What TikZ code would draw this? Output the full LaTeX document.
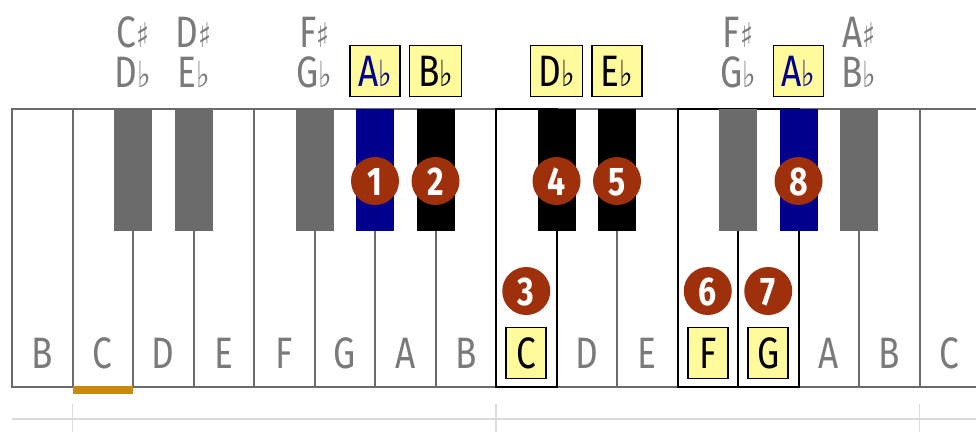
\documentclass[tikz,border=0pt]{standalone}
\usepackage{fontspec}
\setmainfont{Fira Sans}[FakeStretch=0.8]
\newfontfamily\accfont{DejaVu Sans}[FakeStretch=0.8]
\usetikzlibrary{positioning}
\definecolor{kgray}{HTML}{6B6B6B}
\definecolor{lgray}{HTML}{7A7A7A}
\definecolor{knavy}{HTML}{00008C}
\definecolor{nred}{HTML}{9E300C}
\definecolor{nyellow}{HTML}{FFFA9C}
\definecolor{cbar}{HTML}{C8890E}
\definecolor{rgray}{HTML}{DADADA}
\newcommand{\shp}{{\accfont\fontsize{34}{34}\selectfont ♯}}
\newcommand{\flt}{{\accfont\fontsize{36}{36}\selectfont ♭}}
\tikzset{
  whitekey/.style={draw=kgray,fill=white,line width=2pt,inner sep=0pt,outer sep=0pt,minimum width=60.5pt,minimum height=278pt},
  hlkey/.style={whitekey,draw=black},
  blackkey/.style={inner sep=0pt,outer sep=0pt,minimum width=38pt,minimum height=122pt,fill=#1},
  keyname/.style={inner sep=0pt,text height=30pt,text depth=0pt,text=lgray,font=\fontsize{44}{44}\selectfont},
  namebox/.style={keyname,draw=black,line width=1.6pt,fill=nyellow,text=black,minimum width=#1,minimum height=51pt},
  fingerdot/.style={circle,fill=nred,text=white,inner sep=0pt,minimum size=48pt,text height=28pt,text depth=0pt,font=\bfseries\fontsize{40}{40}\selectfont},
  cbarline/.style={draw=cbar,line width=8pt},
  rulerline/.style={draw=rgray,line width=1.5pt}
}

\begin{document}
\begin{tikzpicture}[x=1pt,y=-1pt]
\useasboundingbox (0,0) rectangle (976,432);
\clip (0,0) rectangle (976,432);
% white keys
\node (w1) [whitekey] at (42.25,248) {};
\node (w2) [whitekey] at (102.75,248) {};
\node (w3) [whitekey] at (163.25,248) {};
\node (w4) [whitekey] at (223.75,248) {};
\node (w5) [whitekey] at (284.25,248) {};
\node (w6) [whitekey] at (344.75,248) {};
\node (w7) [whitekey] at (405.25,248) {};
\node (w8) [whitekey] at (465.75,248) {};
\node (w10) [whitekey] at (586.75,248) {};
\node (w11) [whitekey] at (647.25,248) {};
\node (w14) [whitekey] at (828.75,248) {};
\node (w15) [whitekey] at (889.25,248) {};
\node (w16) [whitekey] at (949.75,248) {};
\node (w9) [hlkey] at (526.25,248) {};
\node (w12) [hlkey] at (707.75,248) {};
\node (w13) [hlkey] at (768.25,248) {};
% black keys
\node (b1) [blackkey=kgray] at (133,170) {};
\node (b2) [blackkey=kgray] at (193.5,170) {};
\node (b3) [blackkey=kgray] at (314.5,170) {};
\node (b4) [blackkey=knavy] at (375,170) {};
\node (b5) [blackkey=black] at (435.5,170) {};
\node (b6) [blackkey=black] at (556.5,170) {};
\node (b7) [blackkey=black] at (617,170) {};
\node (b8) [blackkey=kgray] at (738,170) {};
\node (b9) [blackkey=knavy] at (798.5,170) {};
\node (b10) [blackkey=kgray] at (859,170) {};
%
% middle C bar and ruler
\path[cbarline] ([yshift=-3pt]w2.south west) edge ([yshift=-3pt]w2.south east);
\path[rulerline] ([yshift=-32pt]w1.south west) edge ([yshift=-32pt]w16.south east);
\path[rulerline] ([yshift=-17pt]w2.south west) edge ([yshift=-45pt]w2.south west);
\path[rulerline] ([yshift=-17pt]w9.south west) edge ([yshift=-45pt]w9.south west);
\path[rulerline] ([yshift=-17pt]w16.south west) edge ([yshift=-45pt]w16.south west);
%
% key names
\node (l1) [keyname] at (42.25,353) {B};
\node (l2) [keyname] at (102.75,353) {C};
\node (l3) [keyname] at (163.25,353) {D};
\node (l4) [keyname] at (223.75,353) {E};
\node (l5) [keyname] at (284.25,353) {F};
\node (l6) [keyname] at (344.75,353) {G};
\node (l7) [keyname] at (405.25,353) {A};
\node (l8) [keyname] at (465.75,353) {B};
\node (l9) [namebox=40pt] at (526.25,353) {C};
\node (l10) [keyname] at (586.75,353) {D};
\node (l11) [keyname] at (647.25,353) {E};
\node (l12) [namebox=40pt] at (707.75,353) {F};
\node (l13) [namebox=40pt] at (768.25,353) {G};
\node (l14) [keyname] at (828.75,353) {A};
\node (l15) [keyname] at (889.25,353) {B};
\node (l16) [keyname] at (949.75,353) {C};
%
% accidentals above the keyboard
\node (s1) [keyname] at (133,32) {C\shp};
\node (f1) [keyname] at (133,72) {D\flt};
\node (s2) [keyname] at (193.5,32) {D\shp};
\node (f2) [keyname] at (193.5,72) {E\flt};
\node (s3) [keyname] at (314.5,32) {F\shp};
\node (f3) [keyname] at (314.5,72) {G\flt};
\node (f4) [namebox=50pt,text=knavy] at (375,71) {A\flt};
\node (f5) [namebox=52pt] at (435.5,71) {B\flt};
\node (f6) [namebox=52pt] at (556.5,71) {D\flt};
\node (f7) [namebox=50pt] at (617,71) {E\flt};
\node (s8) [keyname] at (738,32) {F\shp};
\node (f8) [keyname] at (738,72) {G\flt};
\node (f9) [namebox=50pt,text=knavy] at (798.5,71) {A\flt};
\node (s10) [keyname] at (859,32) {A\shp};
\node (f10) [keyname] at (859,72) {B\flt};
%
% fingering order
\node (n1) [fingerdot] at (375,181) {1};
\node (n2) [fingerdot] at (435.5,181) {2};
\node (n3) [fingerdot] at (526.25,291) {3};
\node (n4) [fingerdot] at (556.5,181) {4};
\node (n5) [fingerdot] at (617,181) {5};
\node (n6) [fingerdot] at (707.75,291) {6};
\node (n7) [fingerdot] at (768.25,291) {7};
\node (n8) [fingerdot] at (798.5,181) {8};
\end{tikzpicture}
\end{document}
